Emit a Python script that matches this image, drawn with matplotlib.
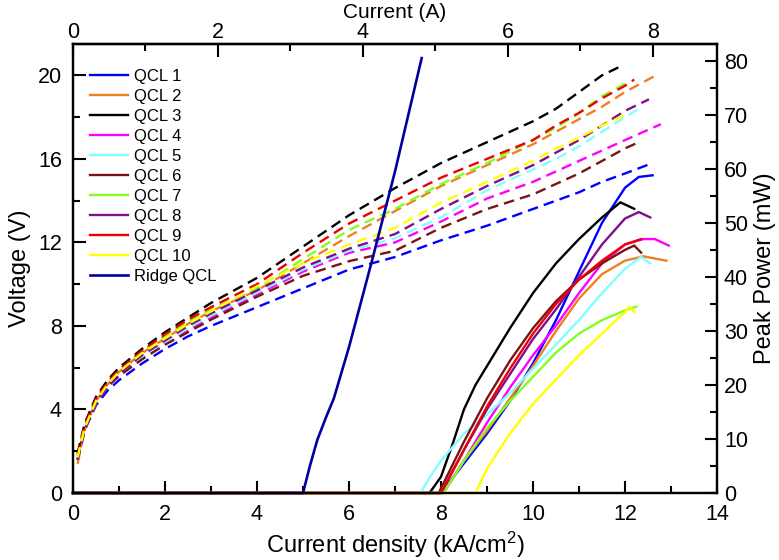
import matplotlib
matplotlib.use("Agg")
import matplotlib.pyplot as plt
from matplotlib.ticker import FixedLocator

plt.rcParams['font.family'] = ['Liberation Sans', 'DejaVu Sans']
plt.rcParams['mathtext.fontset'] = 'custom'
plt.rcParams['mathtext.rm'] = 'Liberation Sans'
plt.rcParams['mathtext.it'] = 'Liberation Sans'

labels = ["QCL 1", "QCL 2", "QCL 3", "QCL 4", "QCL 5", "QCL 6", "QCL 7", "QCL 8", "QCL 9", "QCL 10"]
colors = ["#0000FF", "#F07F1F", "#000000", "#FF00FF", "#80FFFF", "#7A1414", "#80FF20", "#7F0F8F", "#EE0000", "#FFFF00"]

# tick values
x_major = [0, 2, 4, 6, 8, 10, 12, 14]
x_minor = [1, 3, 5, 7, 9, 11, 13]
v_major = [0, 4, 8, 12, 16, 20]
v_minor = [2, 6, 10, 14, 18]
p_major = [0, 10, 20, 30, 40, 50, 60, 70, 80]
p_minor = [5, 15, 25, 35, 45, 55, 65, 75]
a_major = [0, 2, 4, 6, 8]
a_minor = [1, 3, 5, 7]

# ---- voltage (V) vs current density (kA/cm^2), dashed ----
jv_common = [0.1, 0.25, 0.5, 0.75, 1.0, 1.5, 2.0, 2.5, 3.0, 4.0, 5.0, 6.0, 7.0, 8.0, 9.0, 10.0, 10.5, 11.0, 11.5, 12.0]
v_qcl1 = [1.6, 3.0, 4.2, 4.9, 5.4, 6.2, 6.9, 7.5, 8.0, 8.9, 9.8, 10.7, 11.3, 12.1, 12.8, 13.6, 14.0, 14.4, 14.9, 15.3]
v_qcl2 = [1.4, 3.0, 4.4, 5.2, 5.8, 6.7, 7.4, 8.1, 8.7, 9.7, 11.0, 12.3, 13.5, 14.7, 15.7, 16.7, 17.3, 17.9, 18.5, 19.2]
v_qcl3 = [1.9, 3.3, 4.6, 5.4, 6.0, 6.9, 7.7, 8.4, 9.1, 10.3, 11.8, 13.3, 14.6, 15.8, 16.8, 17.8, 18.4, 19.2, 20.0, 20.5]
v_qcl4 = [1.6, 3.0, 4.3, 5.1, 5.6, 6.5, 7.2, 7.8, 8.4, 9.5, 10.6, 11.5, 12.0, 13.0, 14.1, 14.9, 15.4, 15.9, 16.4, 16.9]
v_qcl5 = [1.6, 3.0, 4.3, 5.1, 5.6, 6.5, 7.2, 7.9, 8.5, 9.6, 10.7, 11.6, 12.2, 13.2, 14.5, 15.5, 16.0, 16.6, 17.3, 18.0]
v_qcl6 = [1.6, 3.0, 4.3, 5.1, 5.6, 6.4, 7.1, 7.7, 8.3, 9.4, 10.4, 11.1, 11.6, 12.7, 13.6, 14.3, 14.8, 15.3, 15.9, 16.5]
v_qcl7 = [1.7, 3.1, 4.4, 5.2, 5.8, 6.8, 7.5, 8.2, 8.8, 9.8, 11.2, 12.6, 13.6, 14.8, 15.8, 16.9, 17.5, 18.2, 19.0, 19.6]
v_qcl8 = [1.6, 3.0, 4.3, 5.1, 5.7, 6.6, 7.3, 8.0, 8.6, 9.7, 10.8, 11.7, 12.4, 13.6, 14.7, 15.7, 16.3, 16.9, 17.6, 18.3]
v_qcl9 = [1.8, 3.2, 4.5, 5.3, 5.9, 6.8, 7.6, 8.3, 8.9, 10.0, 11.5, 12.9, 14.0, 15.1, 16.0, 16.9, 17.6, 18.2, 18.9, 19.5]
v_qcl10 = [1.7, 3.1, 4.4, 5.2, 5.8, 6.7, 7.4, 8.1, 8.7, 9.9, 11.0, 11.9, 12.7, 13.9, 14.9, 15.9, 16.5, 17.0, 17.6, 18.1]
j_end = [12.6, 12.63, 11.97, 12.78, 12.38, 12.3, 12.06, 12.52, 12.2, 12.08]
v_end = [15.8, 19.95, 20.5, 17.66, 18.5, 16.8, 19.7, 18.85, 19.8, 18.2]
v_curves = [v_qcl1, v_qcl2, v_qcl3, v_qcl4, v_qcl5, v_qcl6, v_qcl7, v_qcl8, v_qcl9, v_qcl10]

# ---- peak power (mW) vs current density, solid ----
j_p1 = [0, 8.0, 8.5, 9.0, 9.5, 10.0, 10.5, 11.0, 11.5, 12.0, 12.3, 12.6]
p_p1 = [0, 0, 5.5, 11, 17, 24, 32, 41, 50, 56.5, 58.5, 58.8]
j_p2 = [0, 8.05, 8.5, 9.0, 9.5, 10.0, 10.5, 11.0, 11.5, 12.0, 12.4, 12.9]
p_p2 = [0, 0, 6, 11.5, 17.5, 23.5, 30, 36, 40.5, 43, 43.8, 43]
j_p3 = [0, 7.75, 8.0, 8.25, 8.5, 8.75, 9.0, 9.5, 10.0, 10.5, 11.0, 11.5, 11.9, 12.2]
p_p3 = [0, 0, 3, 9, 15.5, 20, 23.5, 30.5, 37, 42.5, 47, 51, 53.8, 52.6]
j_p4 = [0, 8.05, 8.5, 9.0, 9.5, 10.0, 10.5, 11.0, 11.5, 12.0, 12.4, 12.65, 12.95]
p_p4 = [0, 0, 6, 13, 19.5, 25.5, 31, 37, 42.5, 46, 47, 47, 45.8]
j_p5 = [0, 7.55, 7.8, 8.0, 8.5, 9.0, 9.5, 10.0, 10.5, 11.0, 11.5, 12.0, 12.35, 12.55]
p_p5 = [0, 0, 3.5, 6, 11, 14.5, 18.5, 23, 27.5, 32, 37, 41.5, 43.7, 42.5]
j_p6 = [0, 7.95, 8.5, 9.0, 9.5, 10.0, 10.5, 11.0, 11.5, 12.0, 12.2, 12.35]
p_p6 = [0, 0, 9.5, 17.5, 24.5, 30.5, 35.5, 39.5, 42.5, 45, 45.8, 44.5]
j_p7 = [0, 8.05, 8.5, 9.0, 9.5, 10.0, 10.5, 11.0, 11.5, 12.0, 12.25]
p_p7 = [0, 0, 6, 12, 17, 21.5, 26, 29.5, 32, 33.8, 34.5]
j_p8 = [0, 8.0, 8.5, 9.0, 9.5, 10.0, 10.5, 11.0, 11.5, 12.0, 12.3, 12.55]
p_p8 = [0, 0, 8, 15.5, 22, 28.5, 34, 40, 46, 50.8, 52, 51]
j_p9 = [0, 8.0, 8.5, 9.0, 9.5, 10.0, 10.5, 11.0, 11.5, 12.0, 12.35]
p_p9 = [0, 0, 8, 16, 23, 29.5, 35, 39.5, 43, 46, 47]
j_p10 = [0, 8.75, 9.0, 9.5, 10.0, 10.5, 11.0, 11.5, 12.0, 12.1, 12.2]
p_p10 = [0, 0, 4.5, 11, 16.5, 21, 25.5, 29.5, 33.5, 34.5, 33.5]
j_power = [j_p1, j_p2, j_p3, j_p4, j_p5, j_p6, j_p7, j_p8, j_p9, j_p10]
p_power = [p_p1, p_p2, p_p3, p_p4, p_p5, p_p6, p_p7, p_p8, p_p9, p_p10]

j_ridge = [0, 5.0, 5.15, 5.31, 5.5, 5.67, 6.0, 6.5, 7.0, 7.58]
p_ridge = [0, 0, 5, 9.8, 14, 17.5, 27, 43, 59.5, 80.5]

amps_per_kA_cm2 = 0.6346

fig = plt.figure(figsize=(7.79, 5.60), dpi=100)
ax = fig.add_axes([0.0937, 0.1196, 0.8267, 0.8018])
ax2 = ax.twinx()

for v, je, ve, c in zip(v_curves, j_end, v_end, colors):
    js = [j for j in jv_common if j < je] + [je]
    vs = v[:len(js) - 1] + [ve]
    ax.plot(js, vs, color=c, lw=1.7, linestyle=(0, (4.5, 2.6)))

handles = []
for jj, pp, c, lab in zip(j_power, p_power, colors, labels):
    h, = ax2.plot(jj, pp, color=c, lw=1.7, label=lab, clip_on=False)
    handles.append(h)
h, = ax2.plot(j_ridge, p_ridge, color="#0000A0", lw=1.9, label="Ridge QCL", clip_on=False)
handles.append(h)

ax.set_xlim(0, 14)
ax.set_ylim(0, 21.5)
ax2.set_ylim(0, 83.1)

ax.xaxis.set_major_locator(FixedLocator(x_major))
ax.xaxis.set_minor_locator(FixedLocator(x_minor))
ax.yaxis.set_major_locator(FixedLocator(v_major))
ax.yaxis.set_minor_locator(FixedLocator(v_minor))
ax2.yaxis.set_major_locator(FixedLocator(p_major))
ax2.yaxis.set_minor_locator(FixedLocator(p_minor))

top = ax.secondary_xaxis('top', functions=(lambda j: j * amps_per_kA_cm2, lambda i: i / amps_per_kA_cm2))
top.xaxis.set_major_locator(FixedLocator(a_major))
top.xaxis.set_minor_locator(FixedLocator(a_minor))

for a in (ax, ax2, top):
    a.tick_params(which='major', direction='in', length=9, width=1.5, labelsize=15.5)
    a.tick_params(which='minor', direction='in', length=5, width=1.5)
ax.tick_params(axis='y', which='both', right=False, pad=8)
ax.tick_params(axis='x', which='both', top=False, pad=8)
ax2.tick_params(axis='y', which='both', pad=5)
top.tick_params(which='both', pad=1.0)
for a in (ax, ax2):
    for s in a.spines.values():
        s.set_linewidth(1.6)
top.spines['top'].set_linewidth(1.6)

ax.set_xlabel("Current density (kA/cm$^2$)", fontsize=17, labelpad=3)
ax.set_ylabel("Voltage (V)", fontsize=17, labelpad=5)
ax2.set_ylabel("Peak Power (mW)", fontsize=17, labelpad=4)
fig.text(0.0937 + 0.8267 / 2, 1 - 18.0 / 560, "Current (A)", fontsize=15,
         ha='center', va='baseline')

leg = ax2.legend(handles=handles, loc='upper left', frameon=False, fontsize=12,
                 handlelength=2.3, handletextpad=0.35, labelspacing=0.3,
                 borderaxespad=0.0, bbox_to_anchor=(0.016, 0.96))

fig.savefig("out.png", dpi=100)
